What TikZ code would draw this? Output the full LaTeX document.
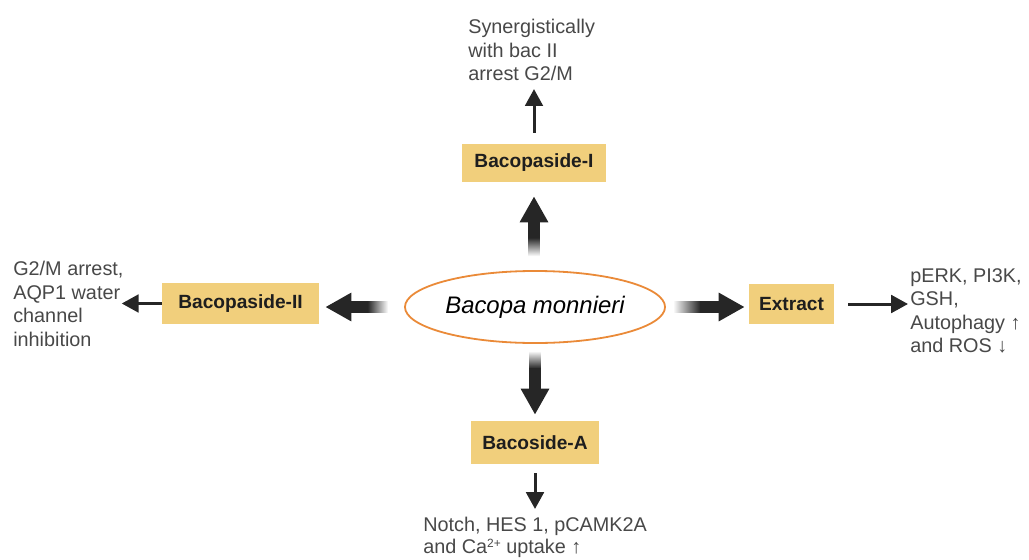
\documentclass[tikz,border=0pt]{standalone}
\usepackage{fontspec}
\setmainfont{Liberation Sans}
\usetikzlibrary{arrows.meta,shapes.geometric,calc}

\definecolor{boxfill}{HTML}{F1CF7C}
\definecolor{ovalline}{HTML}{EA8A38}
\definecolor{arrowdark}{HTML}{262626}
\definecolor{txtgrey}{HTML}{484848}
\definecolor{boxtxt}{HTML}{1E1E1E}

\tikzset{
  compound/.style={fill=boxfill, text=boxtxt, inner sep=0pt,
    font=\fontsize{13.6}{16}\selectfont\bfseries},
  effect/.style={align=left, text=txtgrey, inner sep=0pt,
    font=\fontsize{14.1}{16.7}\selectfont},
  bigarr/.style={draw=arrowdark, line width=0.29cm,
    -{Triangle[width=0.67cm,length=0.65cm]}},
  thinarr/.style={draw=arrowdark, line width=0.075cm,
    -{Triangle[width=0.44cm,length=0.42cm]}},
}

\begin{document}
\begin{tikzpicture}[x=0.025cm, y=-0.025cm]
\useasboundingbox (0,0) rectangle (1029,559);

% plant in the middle
\node[ellipse, draw=ovalline, line width=0.045cm, minimum width=6.5cm,
  minimum height=1.8cm, inner sep=0pt,
  font=\fontsize{17}{20}\selectfont\itshape] (bm) at (535,307) {Bacopa monnieri};

% compounds
\node[compound, minimum width=3.575cm, minimum height=0.95cm] (bpI) at (534,163) {Bacopaside-I};
\node[compound, minimum width=3.925cm, minimum height=1.025cm] (bpII) at (240.5,303.5) {Bacopaside-II};
\node[compound, minimum width=2.125cm, minimum height=1.0cm] (ext) at (791.5,304) {Extract};
\node[compound, minimum width=3.2cm, minimum height=1.075cm] (bcA) at (535,442.5) {Bacoside-A};

% effects
\node[effect, anchor=north west] (topTxt) at (468,19) {Synergistically\\with bac II\\arrest G2/M};
\node[effect, anchor=north west] (leftTxt) at (13,261) {G2/M arrest,\\AQP1 water\\channel\\inhibition};
\node[effect, anchor=north west] (rightTxt) at (910,268) {pERK, PI3K,\\GSH,\\Autophagy ↑\\and ROS ↓};
\node[effect, anchor=north west, font=\fontsize{14.1}{15.6}\selectfont] (botTxt) at (423,517)
  {Notch, HES 1, pCAMK2A\\and Ca\raisebox{4.5pt}{\fontsize{8.5}{9}\selectfont 2+} uptake ↑};

% thick arrows, tails fading out towards the plant
\coordinate (upT) at ($(bm.north -| bpI.south)+(0,-14)$);
\coordinate (upM) at ($(upT)+(0,-18)$);
\shade[bottom color=white, top color=arrowdark] ($(upT)+(-5.8,0)$) rectangle ($(upM)+(5.8,-0.5)$);
\draw[bigarr, shorten >=0.35cm] (upM) -- (bpI.south);

\coordinate (dnT) at ($(bm.south -| bcA.north)+(0,7)$);
\coordinate (dnM) at ($(dnT)+(0,17)$);
\shade[top color=white, bottom color=arrowdark] ($(dnT)+(-5.8,0)$) rectangle ($(dnM)+(5.8,0.5)$);
\draw[bigarr, shorten >=0.15cm] (dnM) -- (bcA.north);

\coordinate (lfT) at ($(bm.west)+(-16,0)$);
\coordinate (lfM) at ($(lfT)+(-20,0)$);
\shade[right color=white, left color=arrowdark] ($(lfT)+(0,-5.8)$) rectangle ($(lfM)+(-0.5,5.8)$);
\draw[bigarr, shorten >=0.15cm] (lfM) -- (bpII.east |- bm.west);

\coordinate (rtT) at ($(bm.east)+(7,0)$);
\coordinate (rtM) at ($(rtT)+(27,0)$);
\shade[left color=white, right color=arrowdark] ($(rtT)+(0,-5.8)$) rectangle ($(rtM)+(0.5,5.8)$);
\draw[bigarr, shorten >=0.1cm] (rtM) -- (ext.west |- bm.east);

% thin arrows to the effects
\draw[thinarr, shorten <=0.275cm, shorten >=0.2cm] (bpI.north) -- (bpI.north |- topTxt.south);
\draw[thinarr, shorten >=-0.05cm] (bpII.west) -- (leftTxt.east |- bpII.west);
\draw[thinarr, shorten <=0.35cm, shorten >=0.05cm] (ext.east) -- (rightTxt.west |- ext.east);
\draw[thinarr, shorten <=0.225cm, shorten >=0.2cm] (bcA.south) -- (bcA.south |- botTxt.north);
\end{tikzpicture}
\end{document}
